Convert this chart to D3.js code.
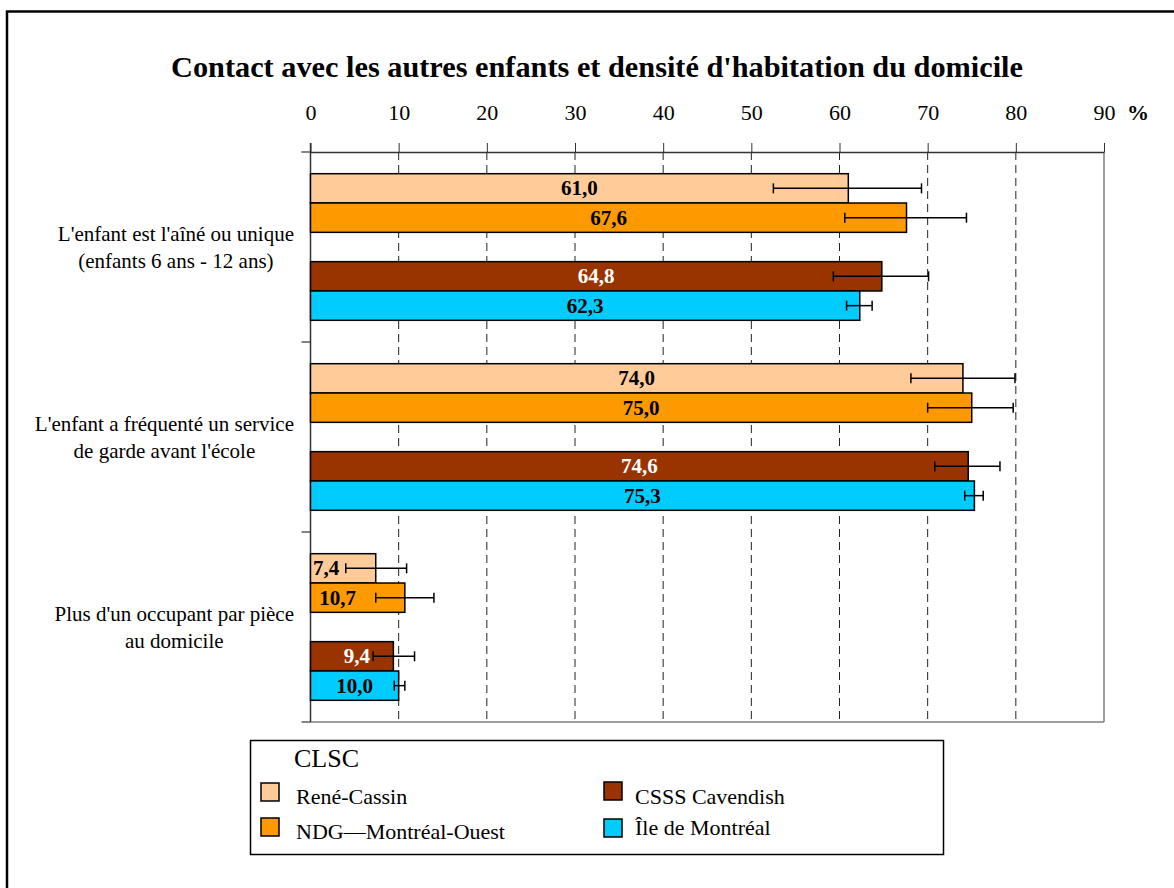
<!DOCTYPE html>
<html>
<head>
<meta charset="utf-8">
<script src="https://cdn.jsdelivr.net/npm/d3@7"></script>
<style>
  html, body { margin: 0; padding: 0; background: #fff; }
  svg { display: block; font-family: "Liberation Serif", "Times New Roman", serif; }
</style>
</head>
<body>
<svg id="chart" width="1174" height="888"></svg>
<script>
// ---------- data ----------
const title = "Contact avec les autres enfants et densité d'habitation du domicile";
const categories = [
  ["L'enfant est l'aîné ou unique", "(enfants 6 ans - 12 ans)"],
  ["L'enfant a fréquenté un service", "de garde avant l'école"],
  ["Plus d'un occupant par pièce", "au domicile"]
];
const seriesNames = ["René-Cassin", "NDG\u2014Montréal-Ouest", "CSSS Cavendish", "Île de Montréal"];
const seriesColors = ["#FFCC99", "#FF9900", "#993300", "#00CCFF"];
const labelColors = ["#000", "#000", "#fff", "#000"];

const reneCassin      = [61.0, 74.0, 7.4];
const reneCassinLow   = [52.5, 68.1, 4.0];
const reneCassinHigh  = [69.3, 79.9, 10.9];
const ndg             = [67.6, 75.0, 10.7];
const ndgLow          = [60.6, 70.0, 7.4];
const ndgHigh         = [74.4, 79.7, 14.0];
const cavendish       = [64.8, 74.6, 9.4];
const cavendishLow    = [59.3, 70.8, 7.1];
const cavendishHigh   = [70.1, 78.2, 11.8];
const ile             = [62.3, 75.3, 10.0];
const ileLow          = [60.8, 74.2, 9.5];
const ileHigh         = [63.7, 76.3, 10.7];

const xTicks = [0, 10, 20, 30, 40, 50, 60, 70, 80, 90];
const legendTitle = "CLSC";

// ---------- build ----------
(function () {
const values = [reneCassin, ndg, cavendish, ile];
const lows = [reneCassinLow, ndgLow, cavendishLow, ileLow];
const highs = [reneCassinHigh, ndgHigh, cavendishHigh, ileHigh];
const slotKeys = ["s0", "s1", "gap", "s2", "s3"];
const seriesSlot = ["s0", "s1", "s2", "s3"];
// manual label nudges (px) as in the original layout: key = series-category
const labelNudge = { "0-2": -17, "1-2": -20, "2-2": 5 };

const rows = [];
categories.forEach((c, ci) => {
  values.forEach((arr, si) => {
    rows.push({ ci, si, v: arr[ci], lo: lows[si][ci], hi: highs[si][ci] });
  });
});

const svg = d3.select("#chart");
const font = '"Liberation Serif", "Times New Roman", serif';

// outer frame
svg.append("rect").attr("x", 7).attr("y", 11.5).attr("width", 1200).attr("height", 900)
  .attr("fill", "none").attr("stroke", "#000").attr("stroke-width", 2.5);

const pLeft = 310.5, pRight = 1104, pTop = 152, pBottom = 722;
const x = d3.scaleLinear().domain([0, 90]).range([pLeft, pRight]);
const y = d3.scaleBand().domain(d3.range(categories.length)).range([pTop, pBottom]).padding(0);
const ys = d3.scaleBand().domain(slotKeys).range([0, y.bandwidth()]).paddingInner(0).paddingOuter(0.74);

// title
svg.append("text").attr("x", 597).attr("y", 77).attr("text-anchor", "middle")
  .attr("font-size", 30.3).attr("font-weight", "bold").attr("fill", "#000").text(title);

// plot border (right & bottom)
svg.append("line").attr("x1", pRight).attr("x2", pRight).attr("y1", pTop).attr("y2", pBottom)
  .attr("stroke", "#808080").attr("stroke-width", 1.5);
svg.append("line").attr("x1", pLeft).attr("x2", pRight).attr("y1", pBottom).attr("y2", pBottom)
  .attr("stroke", "#808080").attr("stroke-width", 1.5);

// gridlines
svg.append("g").selectAll("line").data(xTicks.filter(t => t > 0 && t < 90)).join("line")
  .attr("x1", d => x(d)).attr("x2", d => x(d)).attr("y1", pTop).attr("y2", pBottom)
  .attr("stroke", "#222").attr("stroke-width", 1).attr("stroke-dasharray", "8,5");

// top axis
const ax = svg.append("g").attr("transform", `translate(0,${pTop})`)
  .call(d3.axisTop(x).tickValues(xTicks).tickSize(9).tickSizeOuter(0).tickPadding(23));
ax.select(".domain").attr("stroke", "#333").attr("stroke-width", 1.5);
ax.selectAll(".tick line").attr("stroke", "#333").attr("stroke-width", 1);
ax.selectAll(".tick text").attr("font-family", font).attr("font-size", 22).attr("fill", "#000");
svg.append("text").attr("x", 1127).attr("y", 120).attr("font-size", 22).attr("font-weight", "bold")
  .attr("fill", "#000").text("%");

// left axis with boundary ticks
const bounds = categories.map((c, i) => y(i)).concat([y(categories.length - 1) + y.bandwidth()]);
svg.append("line").attr("x1", pLeft).attr("x2", pLeft).attr("y1", 143).attr("y2", pBottom)
  .attr("stroke", "#333").attr("stroke-width", 1.5);
svg.append("g").selectAll("line").data(bounds).join("line")
  .attr("x1", pLeft - 9).attr("x2", pLeft).attr("y1", d => d).attr("y2", d => d)
  .attr("stroke", "#333").attr("stroke-width", 1.2);

// category labels
categories.forEach((lines, ci) => {
  const g = svg.append("text").attr("font-size", 21).attr("fill", "#000").attr("text-anchor", "middle");
  const cy = y(ci) + y.bandwidth() / 2;
  lines.forEach((l, li) => {
    g.append("tspan").attr("y", cy + (li - (lines.length - 1) / 2) * 27 + 7).text(l);
  });
  let maxW = 0;
  g.selectAll("tspan").each(function () { maxW = Math.max(maxW, this.getComputedTextLength()); });
  g.selectAll("tspan").attr("x", 294 - maxW / 2);
});

// bars
svg.append("g").selectAll("rect").data(rows).join("rect")
  .attr("x", x(0))
  .attr("y", d => y(d.ci) + ys(seriesSlot[d.si]))
  .attr("width", d => x(d.v) - x(0))
  .attr("height", ys.bandwidth())
  .attr("fill", d => seriesColors[d.si])
  .attr("stroke", "#000").attr("stroke-width", 1.5);

// value labels
svg.append("g").selectAll("text").data(rows).join("text")
  .attr("x", d => (x(0) + x(d.v)) / 2 + (labelNudge[d.si + "-" + d.ci] || 0))
  .attr("y", d => y(d.ci) + ys(seriesSlot[d.si]) + ys.bandwidth() / 2 + 7)
  .attr("text-anchor", "middle").attr("font-size", 21).attr("font-weight", "bold")
  .attr("fill", d => labelColors[d.si])
  .text(d => d3.format(".1f")(d.v).replace(".", ","));

// error bars
const eb = svg.append("g").attr("stroke", "#000").attr("stroke-width", 1.5);
rows.forEach(d => {
  const cy = y(d.ci) + ys(seriesSlot[d.si]) + ys.bandwidth() / 2;
  eb.append("line").attr("x1", x(d.lo)).attr("x2", x(d.hi)).attr("y1", cy).attr("y2", cy);
  eb.append("line").attr("x1", x(d.lo)).attr("x2", x(d.lo)).attr("y1", cy - 5).attr("y2", cy + 5);
  eb.append("line").attr("x1", x(d.hi)).attr("x2", x(d.hi)).attr("y1", cy - 5).attr("y2", cy + 5);
});

// legend
const lg = svg.append("g");
lg.append("rect").attr("x", 250.5).attr("y", 740.5).attr("width", 693).attr("height", 114)
  .attr("fill", "#fff").attr("stroke", "#000").attr("stroke-width", 1.5);
lg.append("text").attr("x", 294).attr("y", 767).attr("font-size", 26).attr("fill", "#000").text(legendTitle);
const legPos = [
  { sx: 261, sy: 783, tx: 296, ty: 804 },
  { sx: 261, sy: 818, tx: 296, ty: 839 },
  { sx: 604, sy: 782, tx: 635, ty: 804 },
  { sx: 604, sy: 819, tx: 635, ty: 835 }
];
seriesNames.forEach((n, i) => {
  const p = legPos[i];
  lg.append("rect").attr("x", p.sx).attr("y", p.sy).attr("width", 18).attr("height", 18)
    .attr("fill", seriesColors[i]).attr("stroke", "#000").attr("stroke-width", 1.5);
  lg.append("text").attr("x", p.tx).attr("y", p.ty).attr("font-size", 22).attr("fill", "#000").text(n);
});
})();
</script>
</body>
</html>
